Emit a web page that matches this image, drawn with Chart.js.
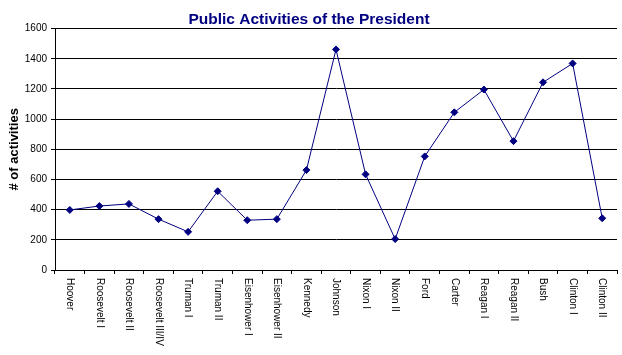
<!DOCTYPE html>
<html>
<head>
<meta charset="utf-8">
<script src="https://cdn.jsdelivr.net/npm/chart.js@4/dist/chart.umd.min.js"></script>
<style>
  html, body { margin: 0; padding: 0; background: #ffffff; }
  canvas { display: block; }
</style>
</head>
<body>
<canvas id="c" width="622" height="355"></canvas>
<script>
// ---- data ----
const presidents = ["Hoover", "Roosevelt I", "Roosevelt II", "Roosevelt III/IV", "Truman I", "Truman II",
  "Eisenhower I", "Eisenhower II", "Kennedy", "Johnson", "Nixon I", "Nixon II", "Ford", "Carter",
  "Reagan I", "Reagan II", "Bush", "Clinton I", "Clinton II"];
const activities = [398, 424, 438, 337, 253, 522, 330, 337, 662, 1462, 634, 205, 753, 1045, 1196, 854, 1244, 1369, 343];
const yTicks = [0, 200, 400, 600, 800, 1000, 1200, 1400, 1600];
const chartTitle = "Public Activities of the President";
const yAxisTitle = "# of activities";

const FONT = 'Arial, "Liberation Sans", sans-serif';
const NAVY = '#000080';

// draws the category labels rotated 90deg clockwise (reading top to bottom)
const verticalLabels = {
  id: 'verticalLabels',
  afterDraw(chart) {
    const scale = chart.scales.x;
    const ctx = chart.ctx;
    ctx.save();
    ctx.fillStyle = '#000000';
    ctx.font = '10px ' + FONT;
    ctx.textAlign = 'left';
    ctx.textBaseline = 'middle';
    scale.ticks.forEach((t, i) => {
      const x = scale.getPixelForTick(i);
      const y = scale.top + 8;
      ctx.save();
      ctx.translate(x, y);
      ctx.rotate(Math.PI / 2);
      ctx.fillText(scale.getLabelForValue(t.value), 0, 0);
      ctx.restore();
    });
    ctx.restore();
  }
};

new Chart(document.getElementById('c'), {
  type: 'line',
  data: {
    labels: presidents,
    datasets: [{
      data: activities,
      borderColor: NAVY,
      borderWidth: 1,
      backgroundColor: NAVY,
      pointStyle: 'rectRot',
      pointRadius: 3.5,
      pointBorderWidth: 1,
      pointBorderColor: NAVY,
      pointBackgroundColor: NAVY,
      tension: 0,
      fill: false
    }]
  },
  options: {
    responsive: false,
    animation: false,
    devicePixelRatio: 1,
    layout: { padding: { left: 0, right: 4, top: 0, bottom: 0 } },
    plugins: {
      legend: { display: false },
      tooltip: { enabled: false },
      title: {
        display: true,
        text: chartTitle,
        color: NAVY,
        font: { family: FONT, size: 15.5, weight: 'bold' },
        padding: { top: 10, bottom: 0 }
      }
    },
    scales: {
      x: {
        type: 'category',
        offset: true,
        grid: {
          offset: true,
          drawOnChartArea: false,
          drawTicks: true,
          tickLength: 4,
          color: '#000000',
          lineWidth: 1
        },
        border: { display: true, color: '#000000', width: 1 },
        ticks: {
          callback: () => '',
          font: { family: FONT, size: 10 },
          minRotation: 0,
          maxRotation: 0
        },
        afterFit(scale) { scale.height = 85; }
      },
      y: {
        min: 0,
        max: 1600,
        afterBuildTicks(scale) { scale.ticks = yTicks.map(v => ({ value: v })); },
        grid: {
          color: '#000000',
          lineWidth: 1,
          drawTicks: true,
          tickLength: 4
        },
        border: { display: true, color: '#000000', width: 1 },
        ticks: {
          color: '#000000',
          font: { family: FONT, size: 10 },
          padding: 4,
          callback: (v) => String(v)
        },
        title: {
          display: true,
          text: yAxisTitle,
          color: '#000000',
          font: { family: FONT, size: 13, weight: 'bold' },
          padding: { top: 7, bottom: 0 }
        },
        afterFit(scale) { scale.width = 55; }
      }
    }
  },
  plugins: [verticalLabels]
});
</script>
</body>
</html>
